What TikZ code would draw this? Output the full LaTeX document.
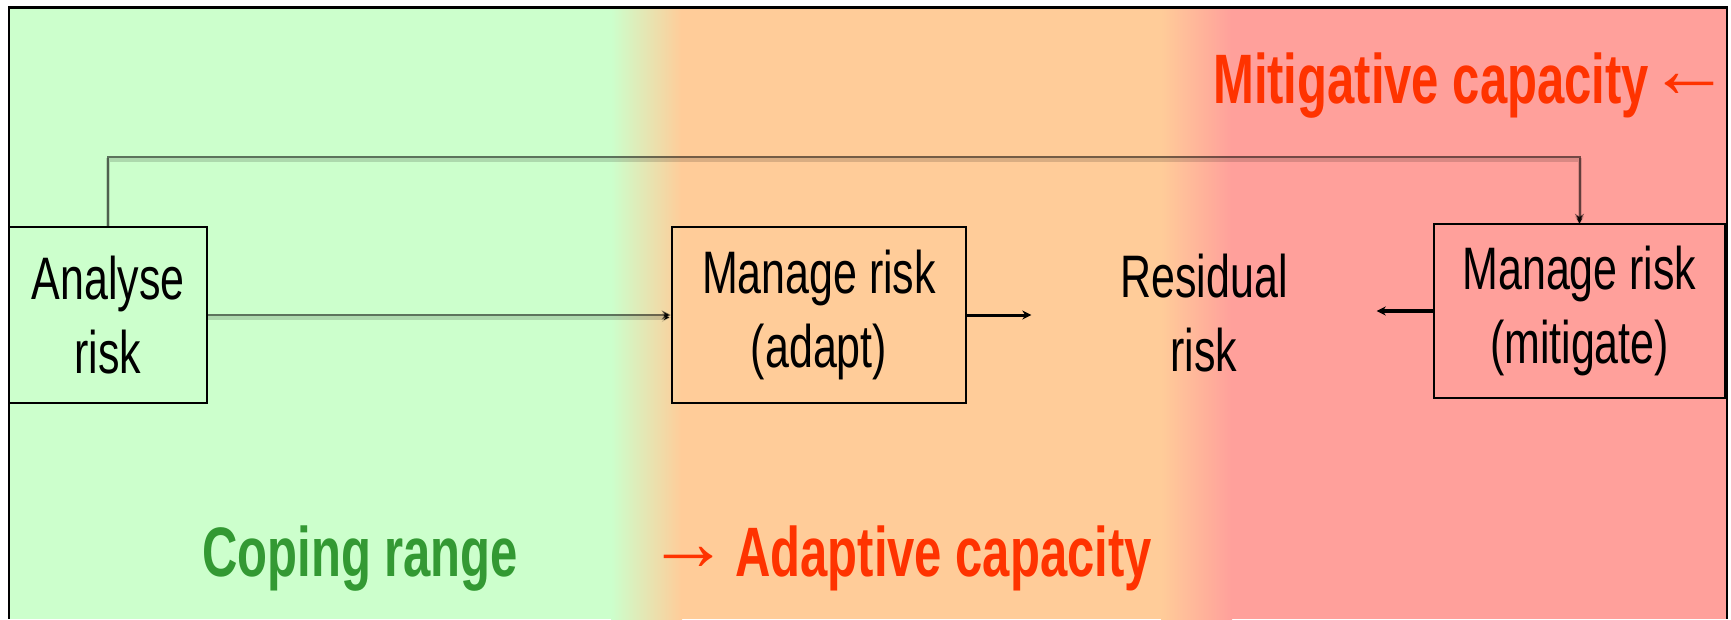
\documentclass[tikz,border=0pt]{standalone}
\usepackage{fontspec}
\setmainfont{Liberation Sans}[FakeStretch=0.716]
\newfontfamily\labelfont{Liberation Sans}[FakeStretch=0.70]
\newfontfamily\arrowfont{Liberation Sans}
\usetikzlibrary{arrows.meta}
\definecolor{cgreen}{HTML}{CCFFCC}
\definecolor{corange}{HTML}{FFCC99}
\definecolor{cpink}{HTML}{FFA09B}
\definecolor{tgreen}{HTML}{339933}
\definecolor{tred}{HTML}{FF3300}
\newcommand{\arrglyph}[1]{{\arrowfont\mdseries\fontsize{82}{90}\selectfont\raisebox{6pt}{#1}}}
\begin{document}
\begin{tikzpicture}[x=1pt,y=-1pt,
 box/.style={draw=black,line width=2.5pt,align=center,inner sep=0pt,font=\fontsize{60}{74}\selectfont},
 plaintext/.style={align=center,inner sep=0pt,font=\fontsize{60}{74}\selectfont},
 caplabel/.style={inner sep=0pt,font=\labelfont\bfseries\fontsize{70}{80}\selectfont},
 conn/.style={line width=2pt,draw=black,draw opacity=0.55,
   preaction={draw=black,draw opacity=0.15,line width=4pt,transform canvas={yshift=-2.5pt}}},
 arr/.style={-{Stealth[length=9pt,width=9pt]}},
]
\useasboundingbox (0,0) rectangle (1731,619);
\fill[white] (0,0) rectangle (1731,619);
% background bands
\fill[cgreen] (9,7) rectangle (612,619);
\shade[left color=cgreen,right color=corange] (611,7) rectangle (682,619);
\fill[corange] (681,7) rectangle (1162,619);
\shade[left color=corange,right color=cpink] (1161,7) rectangle (1232,619);
\fill[cpink] (1231,7) rectangle (1727,619);
% labels
\node[caplabel,text=tgreen,anchor=base west] (coping) at (202,576) {Coping range};
\node[caplabel,text=tred,anchor=base west] (adaptive) at (647,576) {\arrglyph{→}\hspace{6pt}Adaptive capacity};
\node[caplabel,text=tred,anchor=base west] (mitig) at (1213,103) {Mitigative capacity\hspace{0pt}\arrglyph{←}};
% frame
\draw[line width=3pt] (9,7) -- (1727,7);
\draw[line width=2pt] (9,6) -- (9,619);
\draw[line width=2pt] (1727,6) -- (1727,619);
% nodes
\node[box,minimum width=198pt,minimum height=176pt] (analyse) at (108,315) {Analyse\\risk};
\node[box,minimum width=294pt,minimum height=176pt] (adapt) at (819,315) {Manage risk\\(adapt)};
\node[plaintext,minimum width=345pt,minimum height=120pt] (residual) at (1204,313) {Residual\\risk};
\node[box,minimum width=291pt,minimum height=174pt] (mitigate) at (1579.5,311) {Manage risk\\(mitigate)};
% connectors
\coordinate (topy) at (0,157);
\coordinate (bend) at (mitigate.north |- topy);
\draw[conn,arr] (analyse.north) |- (bend) -- (mitigate.north);
\draw[conn,arr] (analyse.east) -- (adapt.west);
\draw[line width=3pt,arr] (adapt.east) -- (residual.west |- adapt.east);
\draw[line width=3.5pt,arr] (mitigate.west) -- (residual.east |- mitigate.west);
\end{tikzpicture}
\end{document}
